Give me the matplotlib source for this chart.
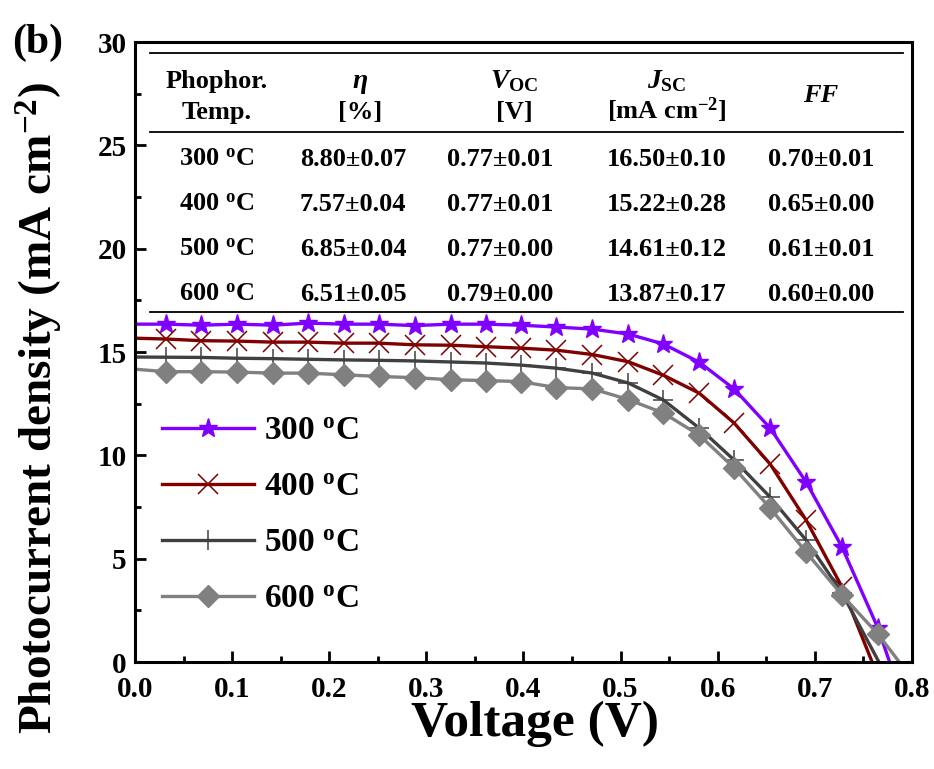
import matplotlib
matplotlib.use('Agg')
import matplotlib.pyplot as plt
from matplotlib.ticker import MultipleLocator, FormatStrFormatter

plt.rcParams['font.family'] = 'Liberation Serif'
plt.rcParams['font.weight'] = 'bold'
plt.rcParams['axes.labelweight'] = 'bold'
plt.rcParams['mathtext.fontset'] = 'custom'
plt.rcParams['mathtext.rm'] = 'Liberation Serif:bold'
plt.rcParams['mathtext.it'] = 'Liberation Serif:italic:bold'
plt.rcParams['mathtext.bf'] = 'Liberation Serif:bold'

# J-V curves: first point is V=0, last point is where J hits 0, markers in between
v300 = [0.0, 0.032, 0.068, 0.105, 0.142, 0.178, 0.215, 0.251, 0.288, 0.325, 0.361, 0.397,
        0.434, 0.471, 0.508, 0.544, 0.581, 0.617, 0.654, 0.691, 0.728, 0.765, 0.777]
j300 = [16.35, 16.35, 16.30, 16.35, 16.30, 16.40, 16.35, 16.35, 16.28, 16.35, 16.35, 16.30,
        16.21, 16.11, 15.87, 15.39, 14.51, 13.21, 11.32, 8.71, 5.56, 1.64, 0.0]

v400 = [0.0, 0.032, 0.068, 0.105, 0.142, 0.178, 0.215, 0.251, 0.288, 0.325, 0.361, 0.397,
        0.434, 0.471, 0.508, 0.544, 0.581, 0.617, 0.654, 0.691, 0.728, 0.759]
j400 = [15.67, 15.63, 15.55, 15.53, 15.48, 15.48, 15.43, 15.43, 15.35, 15.33, 15.26, 15.19,
        15.09, 14.88, 14.53, 13.88, 13.01, 11.56, 9.58, 6.87, 3.63, 0.0]

v500 = [0.0, 0.032, 0.068, 0.105, 0.142, 0.178, 0.215, 0.251, 0.288, 0.325, 0.361, 0.397,
        0.434, 0.471, 0.508, 0.544, 0.581, 0.617, 0.654, 0.691, 0.728, 0.766]
j500 = [14.76, 14.75, 14.74, 14.70, 14.68, 14.65, 14.62, 14.60, 14.57, 14.52, 14.47, 14.37,
        14.22, 13.98, 13.50, 12.68, 11.32, 9.77, 7.98, 5.90, 3.34, 0.0]

v600 = [0.0, 0.032, 0.068, 0.105, 0.142, 0.178, 0.215, 0.251, 0.288, 0.325, 0.361, 0.397,
        0.434, 0.471, 0.508, 0.544, 0.581, 0.617, 0.654, 0.691, 0.728, 0.765, 0.787]
j600 = [14.17, 14.05, 14.05, 14.03, 13.98, 13.98, 13.90, 13.82, 13.76, 13.66, 13.62, 13.57,
        13.28, 13.22, 12.70, 12.05, 10.98, 9.39, 7.45, 5.32, 3.24, 1.35, 0.0]

labels = ['300 $^{\\rm o}$C', '400 $^{\\rm o}$C', '500 $^{\\rm o}$C', '600 $^{\\rm o}$C']

# table data
tab_temp = ['300 $^{\\rm o}$C', '400 $^{\\rm o}$C', '500 $^{\\rm o}$C', '600 $^{\\rm o}$C']
tab_eta = ['8.80\u00b10.07', '7.57\u00b10.04', '6.85\u00b10.04', '6.51\u00b10.05']
tab_voc = ['0.77\u00b10.01', '0.77\u00b10.01', '0.77\u00b10.00', '0.79\u00b10.00']
tab_jsc = ['16.50\u00b10.10', '15.22\u00b10.28', '14.61\u00b10.12', '13.87\u00b10.17']
tab_ff = ['0.70\u00b10.01', '0.65\u00b10.00', '0.61\u00b10.01', '0.60\u00b10.00']

fig = plt.figure(figsize=(9.34, 7.69), dpi=100)
ax = fig.add_axes([0.1445, 0.1391, 0.8319, 0.8062])

ax.plot(v300, j300, color='#8000ff', lw=2.4, marker='*', ms=14,
        markevery=list(range(1, len(v300) - 1)), label=labels[0])
ax.plot(v400, j400, color='#800000', lw=2.4, marker='x', ms=14, mew=1.1,
        markevery=list(range(1, len(v400) - 1)), label=labels[1])
ax.plot(v500, j500, color='#404040', lw=2.4, marker='+', ms=14, mew=1.1,
        markevery=list(range(1, len(v500) - 1)), label=labels[2])
ax.plot(v600, j600, color='#808080', lw=2.4, marker='D', ms=11,
        markevery=list(range(1, len(v600) - 1)), label=labels[3])

ax.set_xlim(0, 0.8)
ax.set_ylim(0, 30)
ax.xaxis.set_major_locator(MultipleLocator(0.1))
ax.xaxis.set_minor_locator(MultipleLocator(0.05))
ax.yaxis.set_major_locator(MultipleLocator(5))
ax.yaxis.set_minor_locator(MultipleLocator(2.5))
ax.xaxis.set_major_formatter(FormatStrFormatter('%.1f'))
ax.tick_params(which='both', direction='in', width=2, top=False, right=False, labelsize=21)
ax.tick_params(which='major', length=8)
ax.tick_params(which='minor', length=4)
ax.tick_params(axis='x', pad=10)
ax.tick_params(axis='y', pad=6)
for s in ax.spines.values():
    s.set_linewidth(2.2)

ax.set_xlabel('Voltage (V)', fontsize=37)
ax.set_ylabel('Photocurrent density (mA cm$^{-2}$)', fontsize=34)
ax.xaxis.set_label_coords(0.515, -0.063)
ax.yaxis.set_label_coords(-0.09, 0.41)

ax.legend(loc='center left', bbox_to_anchor=(0.018, 0.237), frameon=False, fontsize=24,
          handlelength=2.75, handletextpad=0.3, labelspacing=0.75, borderaxespad=0)

# table inside the plot
for yl in [29.46, 25.64, 16.93]:
    ax.axhline(yl, xmin=0.0193, xmax=0.988, color='k', lw=1.3)

fs = 19
ax.text(0.1055, 0.9258, 'Phophor.', transform=ax.transAxes, ha='center', va='baseline', fontsize=fs)
ax.text(0.1055, 0.8758, 'Temp.', transform=ax.transAxes, ha='center', va='baseline', fontsize=fs)
ax.text(0.2896, 0.9258, '\u03b7', transform=ax.transAxes, ha='center', va='baseline', fontsize=fs + 1, style='italic')
ax.text(0.2896, 0.8758, '[%]', transform=ax.transAxes, ha='center', va='baseline', fontsize=fs)
ax.text(0.4878, 0.9258, '$V_{\\rm OC}$', transform=ax.transAxes, ha='center', va='baseline', fontsize=fs + 1)
ax.text(0.4878, 0.8758, '[V]', transform=ax.transAxes, ha='center', va='baseline', fontsize=fs)
ax.text(0.6847, 0.9258, '$J_{\\rm SC}$', transform=ax.transAxes, ha='center', va='baseline', fontsize=fs + 1)
ax.text(0.6847, 0.8758, '[mA cm$^{-2}$]', transform=ax.transAxes, ha='center', va='baseline', fontsize=fs)
ax.text(0.8829, 0.9032, 'FF', transform=ax.transAxes, ha='center', va='baseline', fontsize=fs, style='italic')

row_y = [0.8, 0.7274, 0.6548, 0.5823]
cols = [(0.1055, tab_temp), (0.2806, tab_eta), (0.4698, tab_voc), (0.6847, tab_jsc), (0.8829, tab_ff)]
for cx, vals in cols:
    for ry, txt in zip(row_y, vals):
        ax.text(cx, ry, txt, transform=ax.transAxes, ha='center', va='baseline', fontsize=fs)

fig.text(0.013, 0.945, '(b)', ha='left', va='center', fontsize=30)

fig.savefig('out.png', dpi=100)
